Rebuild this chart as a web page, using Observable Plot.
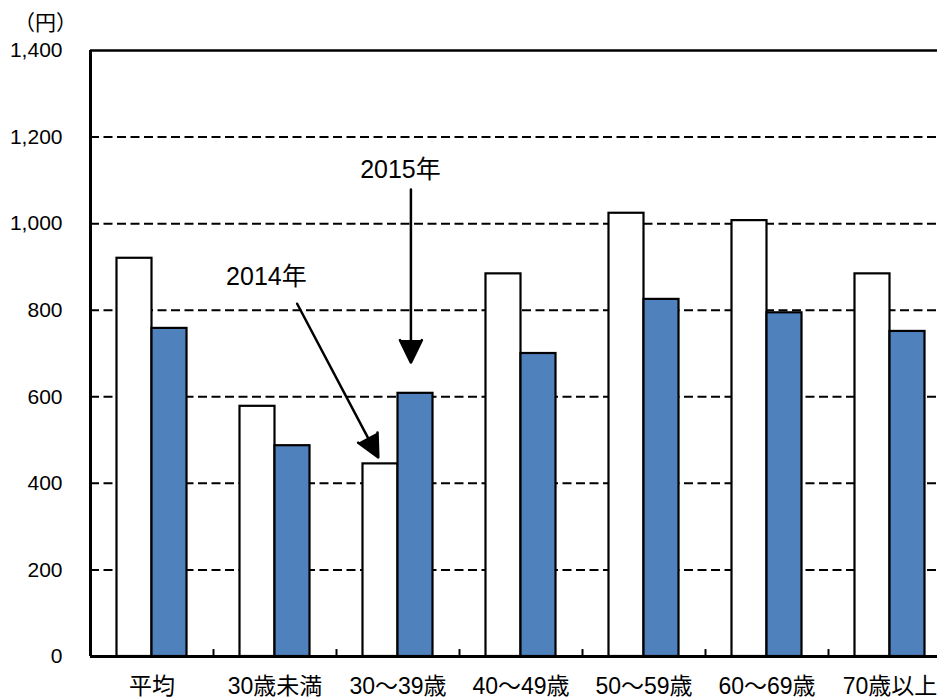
<!DOCTYPE html>
<html>
<head>
<meta charset="utf-8">
<script src="https://cdn.jsdelivr.net/npm/d3@7"></script>
<script src="https://cdn.jsdelivr.net/npm/@observablehq/plot@0.6"></script>
<style>
  body { margin: 0; background: #fff; overflow: hidden; }
  #chart svg { display: block; }
</style>
</head>
<body>
<div id="chart"></div>
<script>
// ---- data ----
const categories = ["平均", "30歳未満", "30～39歳", "40～49歳", "50～59歳", "60～69歳", "70歳以上"];
const values2014 = [920, 578, 445, 884, 1024, 1007, 884];
const values2015 = [758, 487, 608, 700, 825, 794, 751];
const yTicks = [0, 200, 400, 600, 800, 1000, 1200, 1400];
const gridValues = [200, 400, 600, 800, 1000, 1200];
const yUnitLabel = ["（円）"];

// annotations, in data units (x = category index, y = 円)
const annotationText = ["2014年", "2015年"];
const annotationX = [0.93, 2.02];
const annotationY = [876, 1125];
const arrowX1 = [1.18, 2.105];
const arrowY1 = [815, 1079];
const arrowX2 = [1.84, 2.105];
const arrowY2 = [460, 679];

// ---- derived ----
const idx = d3.range(categories.length);
const bounds = d3.range(categories.length - 1).map(i => i + 0.5);
const barW = 0.2846; // bar width as fraction of a category step
const arrows = annotationText.map((t, i) => ({x1: arrowX1[i], y1: arrowY1[i], x2: arrowX2[i], y2: arrowY2[i]}));

const font = '"Liberation Sans", Arial, "Noto Sans CJK JP", sans-serif';

const chart = Plot.plot({
  width: 937,
  height: 700,
  marginLeft: 90,
  marginRight: -14,
  marginTop: 50,
  marginBottom: 44,
  style: {fontFamily: font, color: "black", background: "white", overflow: "visible"},
  x: {type: "linear", domain: [-0.5, categories.length - 0.5], axis: null},
  y: {domain: [0, 1400], axis: null},
  marks: [
    // dashed gridlines
    Plot.ruleY(gridValues, {stroke: "black", strokeWidth: 2, strokeDasharray: "9,4.5"}),
    // top solid line
    Plot.ruleY([1400], {stroke: "black", strokeWidth: 2.5}),
    // bars 2014 (white) and 2015 (blue)
    Plot.rectY(idx, {x1: i => i - barW, x2: i => i, y1: 0, y2: i => values2014[i],
      fill: "white", stroke: "black", strokeWidth: 2.2}),
    Plot.rectY(idx, {x1: i => i, x2: i => i + barW, y1: 0, y2: i => values2015[i],
      fill: "#4F81BD", stroke: "black", strokeWidth: 2.2}),
    // axes lines
    Plot.ruleX([-0.5], {stroke: "black", strokeWidth: 3}),
    Plot.ruleY([0], {stroke: "black", strokeWidth: 3}),
    // small upward ticks between categories
    Plot.ruleX(bounds, {y1: 0, y2: 16, stroke: "black", strokeWidth: 2}),
    // axes text
    Plot.axisY({ticks: yTicks, tickFormat: d3.format(","), tickSize: 0, tickPadding: 28,
      fontSize: 21, label: null, fill: "black"}),
    Plot.axisX({ticks: idx, tickFormat: i => categories[i], tickSize: 0, tickPadding: 21,
      fontSize: 23, label: null, fill: "black"}),
    Plot.text(yUnitLabel, {frameAnchor: "top-left", dx: -45, dy: -27, fontSize: 21,
      textAnchor: "middle", lineAnchor: "middle", fill: "black"}),
    // annotations
    Plot.text(annotationText, {x: (d, i) => annotationX[i], y: (d, i) => annotationY[i],
      fontSize: 25, fill: "black"}),
    Plot.arrow(arrows, {x1: "x1", y1: "y1", x2: "x2", y2: "y2", stroke: "black", fill: "black",
      strokeWidth: 2.5, headLength: 15, headAngle: 52})
  ]
});
document.getElementById("chart").appendChild(chart);
</script>
</body>
</html>
